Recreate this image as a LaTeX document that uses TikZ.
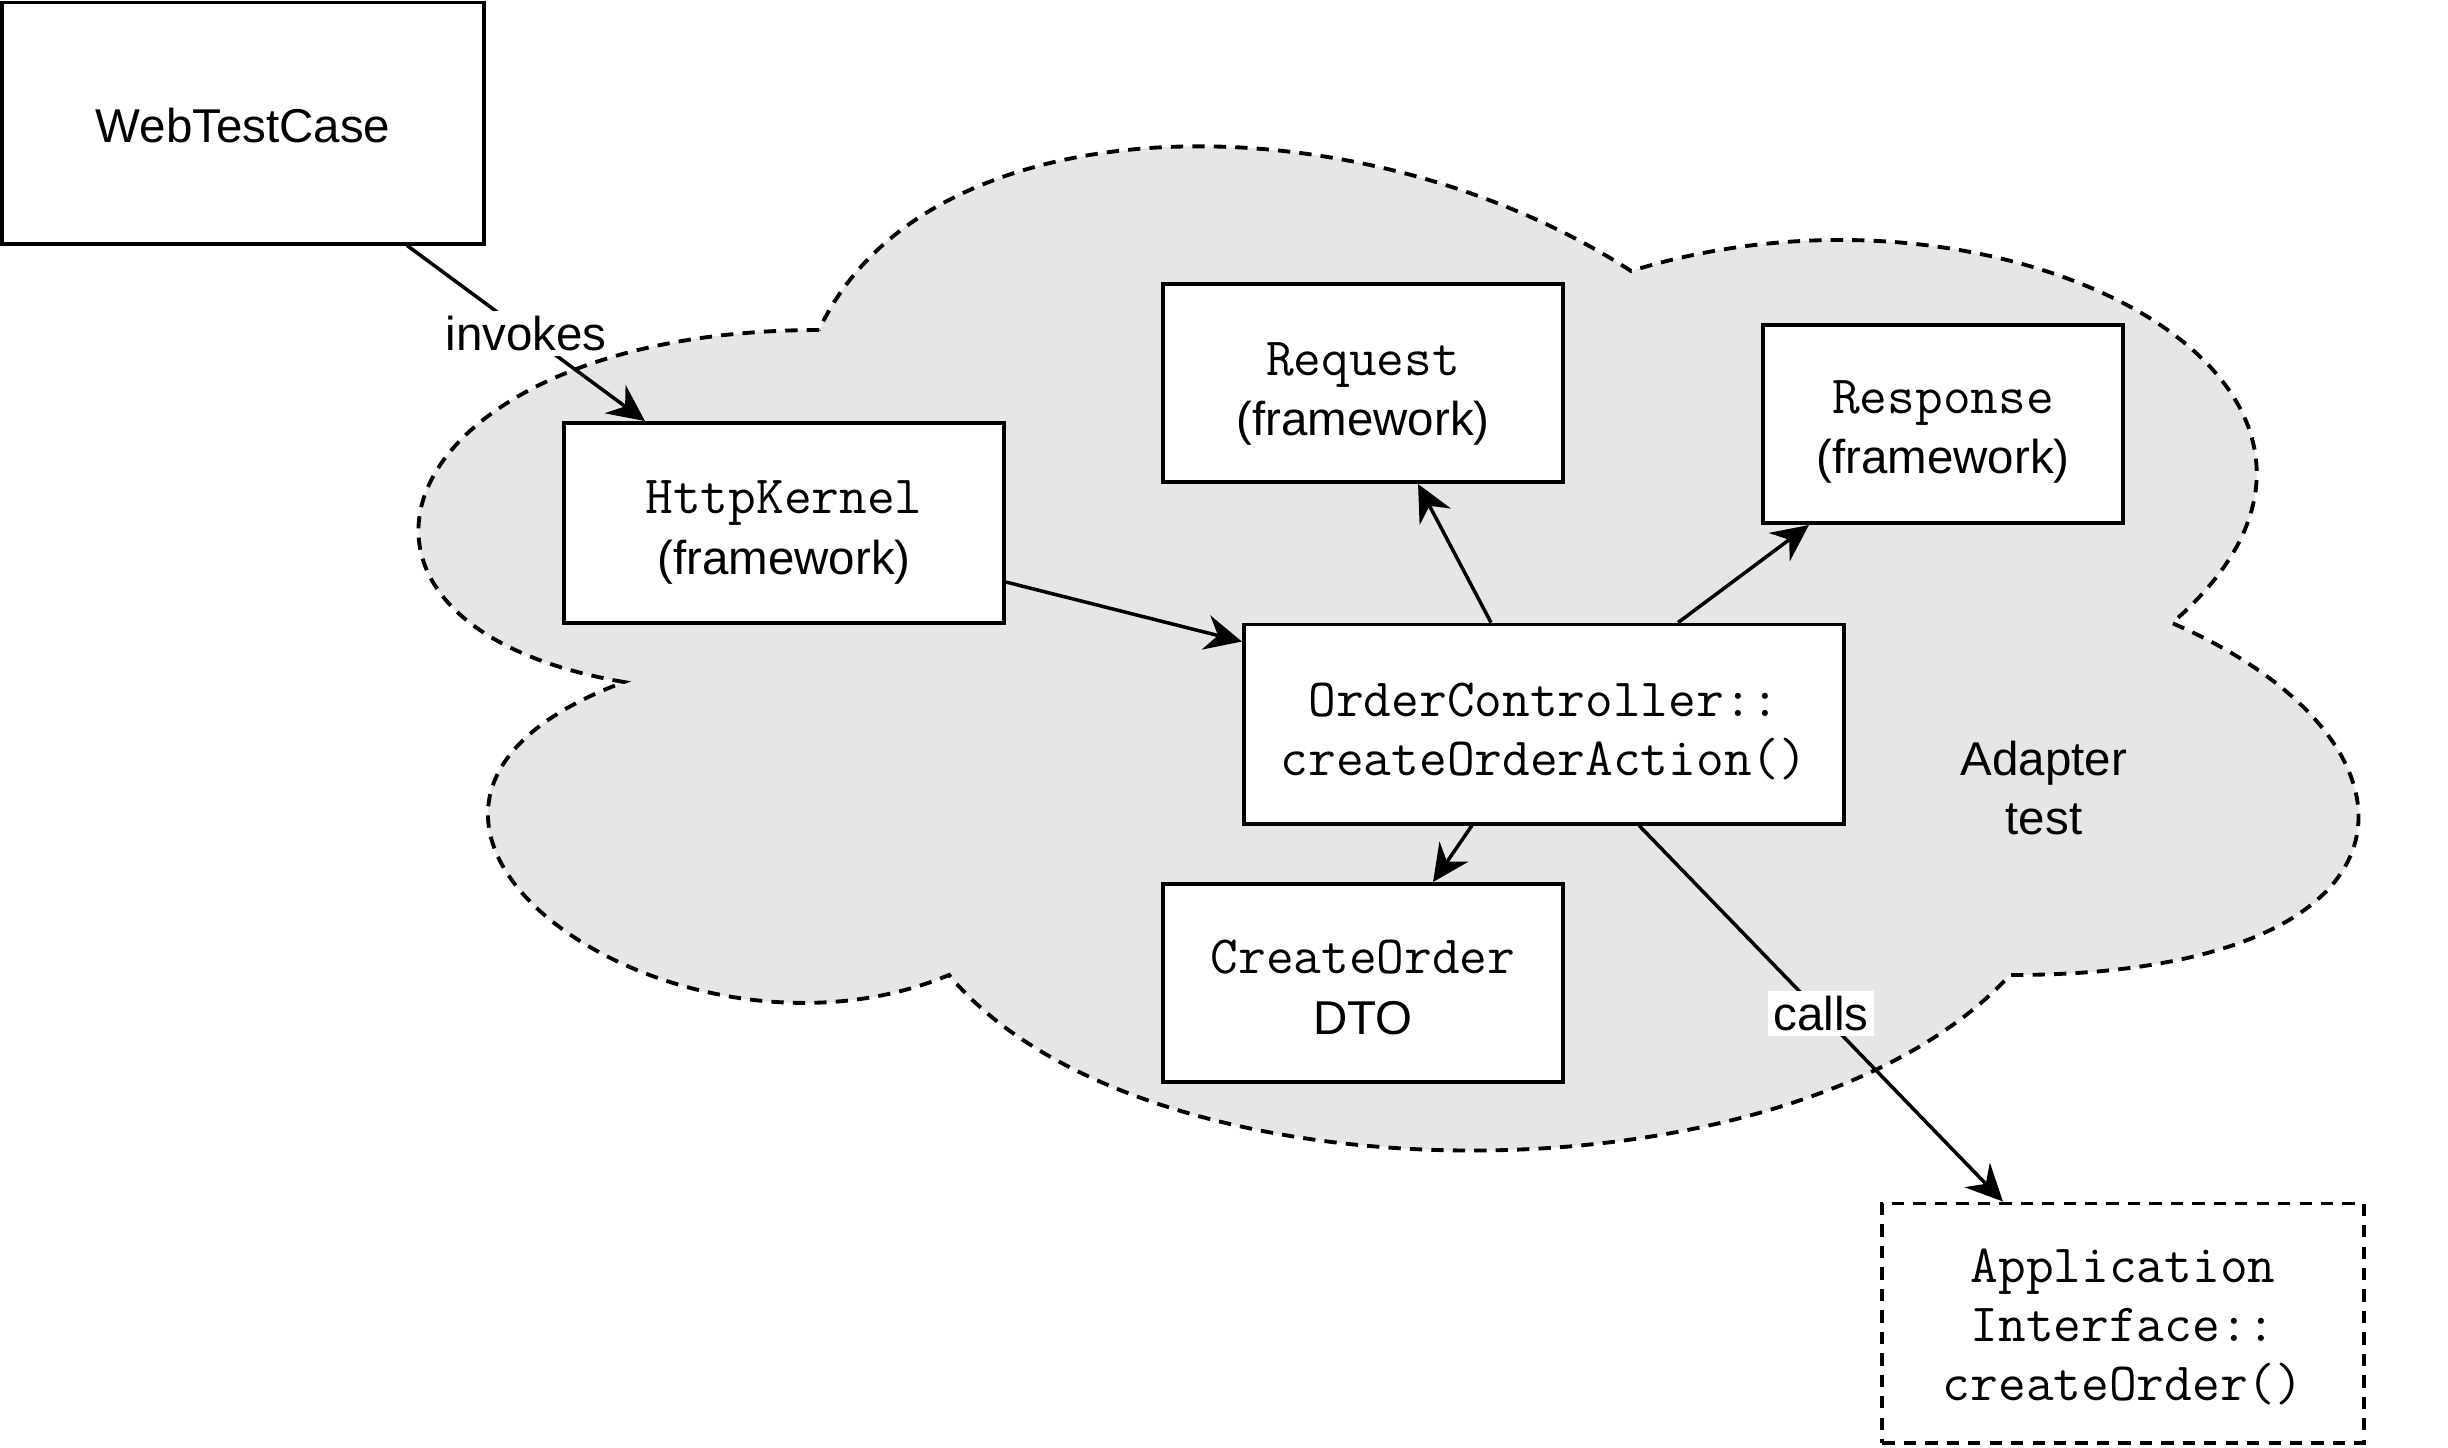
\documentclass[tikz,border=0pt]{standalone}
\usepackage{fontspec}
\setmainfont{Liberation Sans}
\usetikzlibrary{arrows.meta}
\definecolor{cloudgray}{HTML}{E6E6E6}
% first line raised with a strut, so the text sits as in the drawing
\newcommand\lift[1]{\rule{0pt}{#1}}
\newcommand\code[2]{{\fontsize{15.3}{17.2}\selectfont\ttfamily\lift{#1}#2}}
\tikzset{
  box/.style={draw, fill=white, line width=1.1pt, align=center, font=\fontsize{13.5}{17.2}\selectfont},
  dashbox/.style={box, dash pattern=on 3.5pt off 2.6pt},
  codebox/.style={font=\fontsize{15.3}{16.8}\selectfont\ttfamily},
  flow/.style={line width=1pt, -{Stealth[length=10.5pt,width=10pt,inset=3.5pt]}},
  edgelabel/.style={fill=white, inner sep=1.5pt, font=\fontsize{13.5}{16.8}\selectfont},
}
\begin{document}
\begin{tikzpicture}[x=0.01cm, y=-0.01cm]
    %%%%% START %%%%%
    \useasboundingbox (0,0) rectangle (2448,1447);

    % cloud round the adapter test
    \draw[fill=cloudgray, line width=1.1pt, dash pattern=on 3.5pt off 2.6pt]
        (819,330) .. controls (386,330) and (278,623) .. (624,682)
        .. controls (278,811) and (668,1092) .. (949,975)
        .. controls (1144,1209) and (1794,1209) .. (2010,975)
        .. controls (2443,975) and (2443,740) .. (2172,623)
        .. controls (2443,389) and (2010,154) .. (1631,271)
        .. controls (1361,96) and (928,96) .. (819,330) -- cycle;

    \node[box, minimum width=4.81cm, minimum height=2.41cm] (wtc) at (243,123) {\lift{11pt}WebTestCase};
    \node[box, minimum width=4.40cm, minimum height=2.00cm] (kernel) at (784,523) {\code{14.8pt}{HttpKernel}\\(framework)};
    \node[box, minimum width=4.00cm, minimum height=1.98cm] (request) at (1363,383) {\code{15.6pt}{Request}\\(framework)};
    \node[box, minimum width=3.60cm, minimum height=1.98cm] (response) at (1943,424) {\code{14pt}{Response}\\(framework)};
    \node[box, codebox, minimum width=6.00cm, minimum height=1.99cm] (controller) at (1544,724) {\lift{14pt}OrderController::\\createOrderAction()};
    \node[box, minimum width=4.00cm, minimum height=1.98cm] (dto) at (1363,983) {\code{12pt}{CreateOrder}\\DTO};
    \node[dashbox, codebox, minimum width=4.81cm, minimum height=2.39cm] (appiface) at (2123,1323) {\lift{12pt}Application\\Interface::\\createOrder()};

    \node[align=center, font=\fontsize{13.5}{16.8}\selectfont] (adapter) at (2044,788) {Adapter\\test};

    % connectors
    \draw[flow] ([xshift=1.64cm]wtc.south) -- node[edgelabel] {invokes} ([xshift=-1.39cm]kernel.north);
    \draw[flow] ([yshift=-0.59cm]kernel.east) -- ([yshift=-0.19cm]controller.north west);
    \draw[flow] ([xshift=-0.53cm]controller.north) -- ([xshift=0.55cm]request.south);
    \draw[flow] ([xshift=1.34cm]controller.north) -- ([xshift=-1.34cm]response.south);
    \draw[flow] ([xshift=-0.72cm]controller.south) -- ([xshift=0.70cm]dto.north);
    \draw[flow] ([xshift=0.95cm]controller.south) -- node[edgelabel] {calls} ([xshift=-1.20cm]appiface.north);

    %%%%% END %%%%%
\end{tikzpicture}
\end{document}
